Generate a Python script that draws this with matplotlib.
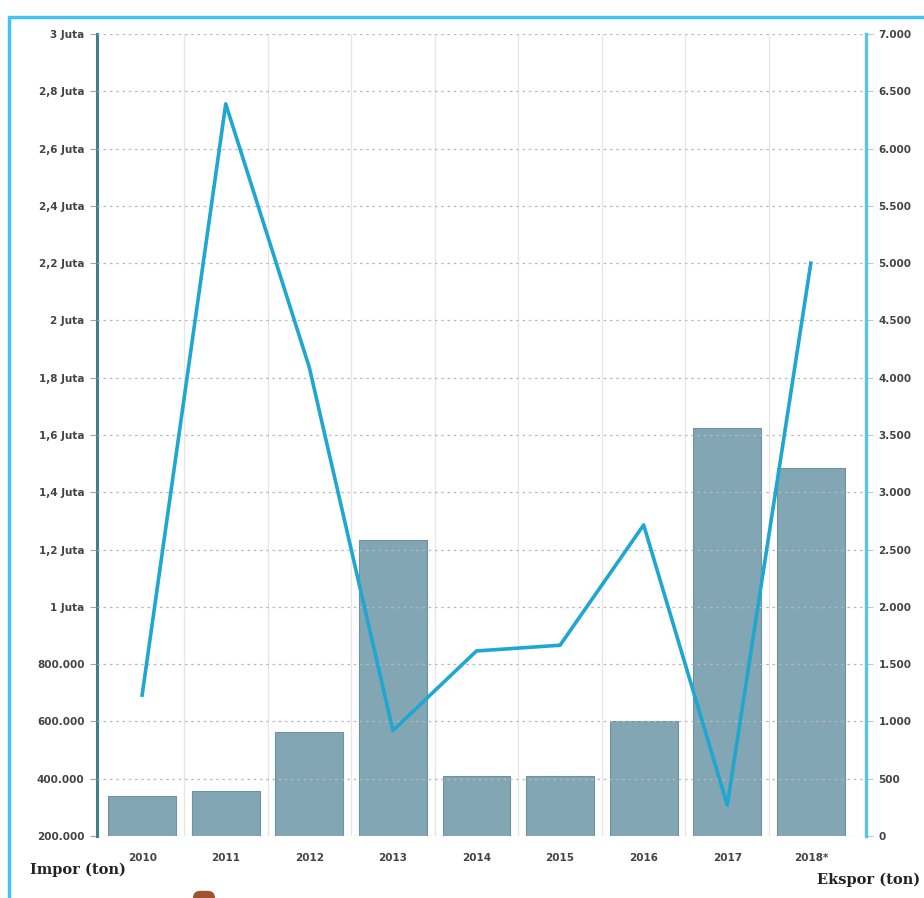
import matplotlib.pyplot as plt
import matplotlib.patches as mpatches
import numpy as np

# Data
years = ["2010", "2011", "2012", "2013", "2014", "2015", "2016", "2017", "2018*"]
impor = [340000, 357000, 563000, 1233000, 409000, 409000, 601000, 1624000, 1485000]
ekspor = [1230, 6390, 4090, 920, 1615, 1665, 2715, 270, 5000]

left_ticks = [200000, 400000, 600000, 800000, 1000000, 1200000, 1400000, 1600000,
              1800000, 2000000, 2200000, 2400000, 2600000, 2800000, 3000000]
left_labels = ["200.000", "400.000", "600.000", "800.000", "1 Juta", "1,2 Juta",
               "1,4 Juta", "1,6 Juta", "1,8 Juta", "2 Juta", "2,2 Juta", "2,4 Juta",
               "2,6 Juta", "2,8 Juta", "3 Juta"]
right_ticks = list(range(0, 7001, 500))
right_labels = ["0", "500", "1.000", "1.500", "2.000", "2.500", "3.000", "3.500",
                "4.000", "4.500", "5.000", "5.500", "6.000", "6.500", "7.000"]

bar_color = "#83a6b5"
line_color = "#1fa7d1"
label_color = "#444444"

fig = plt.figure(figsize=(9.24, 8.98), dpi=100)
ax = fig.add_axes([97 / 924, 1 - 836 / 898, (866 - 97) / 924, (836 - 34) / 898])

x = np.arange(len(years))
ax.bar(x, [v - 200000 for v in impor], bottom=200000, width=0.81,
       color=bar_color, edgecolor="#6f929f", linewidth=0.8, zorder=2)
ax.set_ylim(200000, 3000000)
ax.set_xlim(-0.54, len(years) - 1 + 0.66)
ax.set_yticks(left_ticks)
ax.set_yticklabels(left_labels, fontsize=7.5, color=label_color, fontweight="bold")
ax.set_xticks(x)
ax.set_xticklabels(years, fontsize=7.5, color=label_color, fontweight="bold")
ax.tick_params(axis="x", length=0, pad=12)
ax.tick_params(axis="y", length=5, color="#9aa9ad", pad=4)

# grid: dashed horizontal on top of bars, faint vertical separators
for t in left_ticks:
    ax.axhline(t, color="#b8b8b8", linestyle=(0, (2, 3)), linewidth=0.9, zorder=3)
for b in x[:-1] + 0.5:
    ax.axvline(b, color="#e6e6e6", linewidth=0.9, zorder=1)

for s in ["top", "bottom"]:
    ax.spines[s].set_visible(False)
ax.spines["left"].set_color("#3f7f8c")
ax.spines["left"].set_linewidth(2.2)
ax.spines["right"].set_visible(False)

ax2 = ax.twinx()
ax2.plot(x, ekspor, color=line_color, linewidth=2.6, zorder=4)
ax2.set_ylim(0, 7000)
ax2.set_yticks(right_ticks)
ax2.set_yticklabels(right_labels, fontsize=7.5, color=label_color, fontweight="bold")
ax2.tick_params(axis="y", length=5, color="#9fd3e3", pad=4)
for s in ["top", "bottom", "left"]:
    ax2.spines[s].set_visible(False)
ax2.spines["right"].set_color("#5cc3e2")
ax2.spines["right"].set_linewidth(2.4)

fig.text(30 / 924, 1 - 870 / 898, "Impor (ton)", fontsize=10.5, fontweight="bold",
         family="DejaVu Serif", color="#222222", va="center", ha="left")
fig.text(920 / 924, 1 - 880 / 898, "Ekspor (ton)", fontsize=10.5, fontweight="bold",
         family="DejaVu Serif", color="#222222", va="center", ha="right")

# outer light-blue frame
fig.add_artist(mpatches.Rectangle((9 / 924, -0.1), 1.2, 1 - 17 / 898 + 0.1,
                                  transform=fig.transFigure, fill=False,
                                  edgecolor="#45c3ee", linewidth=2.5))
# small brown tab at the bottom
fig.add_artist(mpatches.FancyBboxPatch((193 / 924, -0.01), 22 / 924, 0.018,
                                       boxstyle="round,pad=0,rounding_size=0.008",
                                       transform=fig.transFigure,
                                       facecolor="#a0522d", edgecolor="none"))

fig.savefig("out.png", dpi=100)
